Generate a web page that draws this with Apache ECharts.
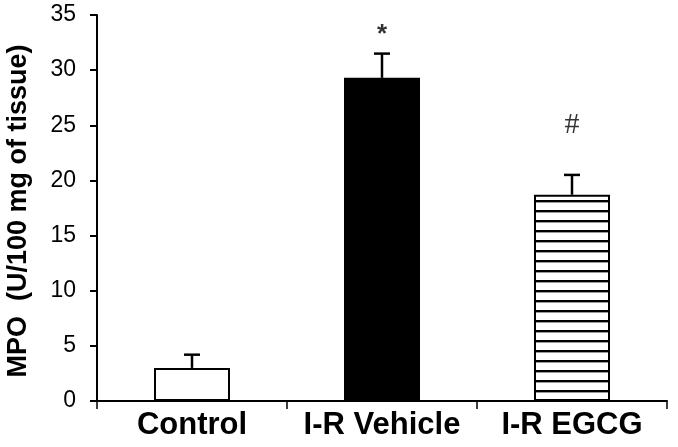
<!DOCTYPE html>
<html>
<head>
<meta charset="utf-8">
<script src="https://cdn.jsdelivr.net/npm/echarts@6/dist/echarts.min.js"></script>
<style>
  html, body { margin: 0; padding: 0; background: #fff; }
  #chart { width: 678px; height: 447px; }
</style>
</head>
<body>
<div id="chart"></div>
<script>
const categories = ['Control', 'I-R Vehicle', 'I-R EGCG']
const mpo = [3.0, 29.3, 18.7]
const mpoErr = [1.2, 2.2, 1.8]
const sigLabels = ['', '*', '#']
const sigY = [0, 33.2, 25.0]
const yTicks = [0, 5, 10, 15, 20, 25, 30, 35]
const yTitle = 'MPO  (U/100 mg of tissue)'

// horizontal stripes for the EGCG bar
const stripe = document.createElement('canvas')
stripe.width = 8
stripe.height = 10.6
const sctx = stripe.getContext('2d')
sctx.fillStyle = '#fff'
sctx.fillRect(0, 0, 8, 11)
sctx.fillStyle = '#000'
sctx.fillRect(0, 0, 8, 2.4)

const fills = ['#fff', '#000', { image: stripe, repeat: 'repeat' }]

const chart = echarts.init(document.getElementById('chart'))
const font = 'Liberation Sans, Arial, sans-serif'

chart.setOption({
  animation: false,
  backgroundColor: '#fff',
  grid: { left: 97, right: 11, top: 15, bottom: 46 },
  graphic: [
    {
      type: 'text',
      x: 19,
      y: 211,
      rotation: Math.PI / 2,
      style: {
        text: yTitle,
        fill: '#000',
        font: 'bold 27px ' + font,
        align: 'center',
        verticalAlign: 'middle',
      },
    },
  ],
  xAxis: {
    type: 'category',
    data: categories,
    axisLine: { lineStyle: { color: '#000', width: 2 } },
    axisTick: { show: true, length: 8, lineStyle: { color: '#000', width: 1.5 } },
    axisLabel: {
      color: '#000', fontSize: 31, fontWeight: 'bold', fontFamily: font, margin: 9,
      interval: 0, hideOverlap: false,
    },
  },
  yAxis: {
    type: 'value',
    min: 0,
    max: 35,
    interval: 5,
    splitLine: { show: false },
    axisLine: { show: true, lineStyle: { color: '#000', width: 2 } },
    axisTick: { show: true, length: 7, lineStyle: { color: '#000', width: 2 } },
    axisLabel: {
      color: '#000', fontSize: 23, fontFamily: font, margin: 21,
      formatter: (v) => (yTicks.includes(v) ? String(v) : ''),
    },
  },
  series: [
    {
      type: 'bar',
      barWidth: '40%',
      data: mpo.map((v, i) => ({
        value: v,
        itemStyle: { color: fills[i], borderColor: '#000', borderWidth: 2 },
      })),
      z: 2,
    },
    {
      type: 'custom',
      z: 3,
      data: mpo.map((v, i) => [i, v, v + mpoErr[i]]),
      renderItem: (params, api) => {
        const base = api.coord([api.value(0), api.value(1)])
        const top = api.coord([api.value(0), api.value(2)])
        const cap = 8
        const style = { stroke: '#000', lineWidth: 2.5 }
        return {
          type: 'group',
          children: [
            { type: 'line', shape: { x1: base[0], y1: base[1], x2: top[0], y2: top[1] }, style },
            { type: 'line', shape: { x1: top[0] - cap, y1: top[1], x2: top[0] + cap, y2: top[1] }, style },
          ],
        }
      },
    },
    {
      type: 'scatter',
      symbolSize: 0,
      data: sigY.map((v, i) => ({
        value: [i, v],
        label: i === 1
          ? { fontSize: 26, fontWeight: 'bold', fontFamily: font }
          : { fontSize: 30, fontFamily: 'Liberation Serif, serif' },
      })),
      label: {
        show: true,
        position: 'inside',
        formatter: (p) => sigLabels[p.dataIndex],
        color: '#000',
      },
    },
  ],
})
</script>
</body>
</html>
